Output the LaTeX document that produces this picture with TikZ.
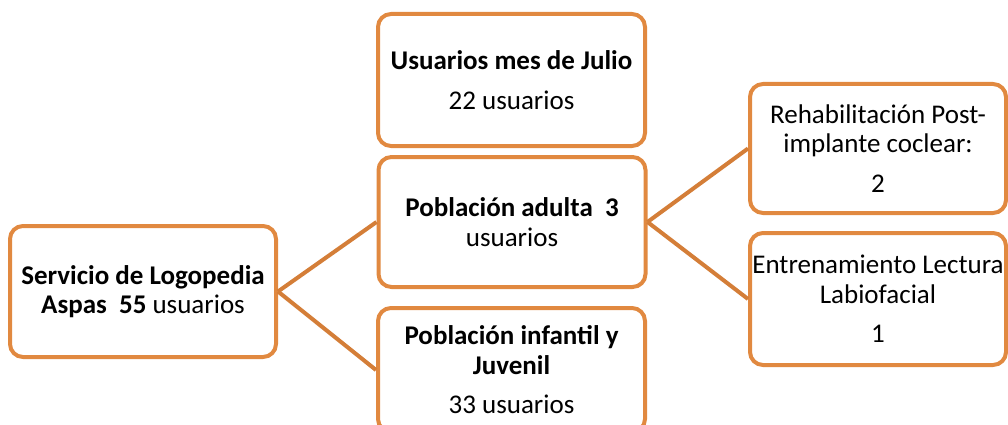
\documentclass[tikz,border=0pt]{standalone}
\usepackage{fontspec}
\setmainfont{Carlito}
\definecolor{boxorange}{RGB}{225,137,64}
\definecolor{lineorange}{RGB}{212,126,56}
\tikzset{
  box/.style={draw=boxorange, line width=4pt, rounded corners=13pt, fill=white,
    align=center, inner sep=0pt, text=black,
    font=\fontsize{27}{29.5}\selectfont},
  conn/.style={draw=lineorange, line width=4pt}
}
\begin{document}
\begin{tikzpicture}[x=1pt,y=-1pt]
\useasboundingbox (0,0) rectangle (1008,425);
\node[box, minimum width=266pt, minimum height=131pt] (srv) at (143,291.5)
  {\textbf{Servicio de Logopedia}\\\textbf{Aspas\ \ 55} usuarios};
\node[box, minimum width=267pt, minimum height=132pt] (jul) at (511.5,80)
  {\textbf{Usuarios mes de Julio}\\[11pt]22 usuarios};
\node[box, minimum width=267pt, minimum height=130pt] (adu) at (512,222)
  {\textbf{Población adulta\ \ 3}\\usuarios};
\node[box, minimum width=267pt, minimum height=124pt] (inf) at (511.5,370)
  {\textbf{Población infantil y}\\\textbf{Juvenil}\\[10pt]33 usuarios};
\node[box, minimum width=256pt, minimum height=129pt] (reh) at (878,148.5)
  {Rehabilitación Post-\\implante coclear:\\[10pt]2};
\node[box, minimum width=256pt, minimum height=132pt] (ent) at (878,299)
  {Entrenamiento Lectura\\Labiofacial\\[10pt]1};
\draw[conn] (srv.east) -- (adu.west);
\draw[conn] (srv.east) -- (inf.west);
\draw[conn] (adu.east) -- (reh.west);
\draw[conn] (adu.east) -- (ent.west);
\end{tikzpicture}
\end{document}
